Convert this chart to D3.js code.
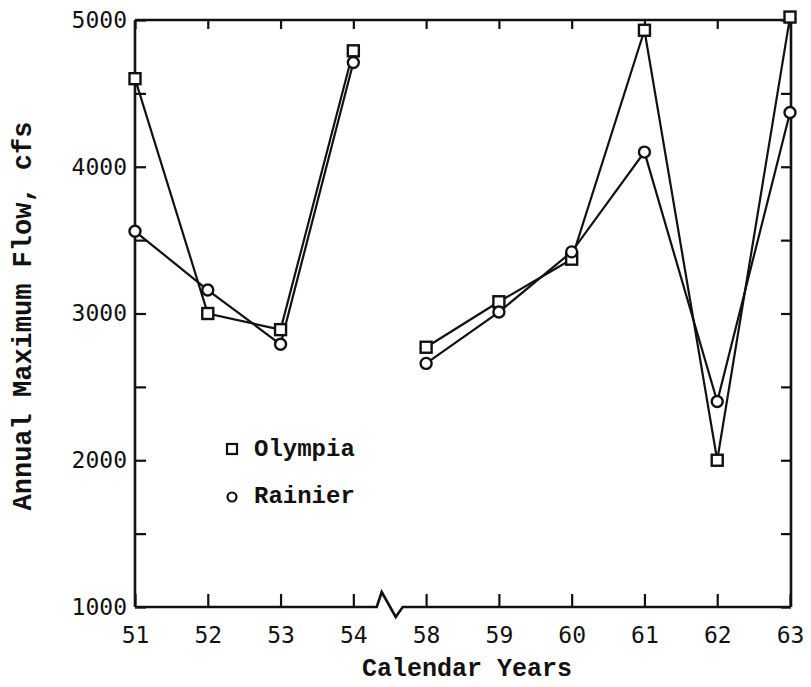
<!DOCTYPE html>
<html>
<head>
<meta charset="utf-8">
<script src="https://cdn.jsdelivr.net/npm/d3@7"></script>
<style>
  html, body { margin: 0; padding: 0; background: #fff; }
  svg { display: block; }
  text { fill: #111; }
</style>
</head>
<body>
<svg id="chart" width="811" height="687"></svg>
<script>
// ---- data ----
const years = ["51", "52", "53", "54", "58", "59", "60", "61", "62", "63"];
const olympia = [4600, 3000, 2890, 4790, 2770, 3080, 3370, 4930, 2000, 5020];
const rainier = [3560, 3160, 2790, 4710, 2660, 3010, 3420, 4100, 2400, 4370];
const yTickValues = [1000, 1500, 2000, 2500, 3000, 3500, 4000, 4500, 5000];
const yLabelValues = [1000, 2000, 3000, 4000, 5000];
const segments = [[0, 3], [4, 9]]; // series break between 54 and 58
const seriesNames = ["Olympia", "Rainier"];

// ---- layout ----
const mLeft = 135, mRight = 791, mTop = 20, mBottom = 607;
const svg = d3.select("#chart");

const x = d3.scalePoint().domain(years).range([mLeft, 790]);
const y = d3.scaleLinear().domain([1000, 5000]).range([mBottom, mTop]);

const tickFont = "'DejaVu Sans Mono', 'Liberation Mono', monospace";
const titleFont = "'Liberation Mono', 'Courier New', monospace";

// left axis
const gL = svg.append("g").attr("transform", `translate(${mLeft},0)`)
  .call(d3.axisLeft(y).tickValues(yTickValues).tickSize(-11).tickPadding(8)
    .tickFormat(d => yLabelValues.includes(d) ? d : ""));
// right axis
const gR = svg.append("g").attr("transform", `translate(${mRight},0)`)
  .call(d3.axisRight(y).tickValues(yTickValues).tickSize(-10).tickFormat(""));
// top axis
const gT = svg.append("g").attr("transform", `translate(0,${mTop})`)
  .call(d3.axisTop(x).tickSize(-9).tickFormat(""));
// bottom axis
const gB = svg.append("g").attr("transform", `translate(0,${mBottom})`)
  .call(d3.axisBottom(x).tickSize(-13).tickPadding(20));

[gL, gR, gT, gB].forEach(g => {
  g.selectAll(".tick line").attr("stroke", "#111").attr("stroke-width", 2.2);
  g.selectAll("text").attr("font-family", tickFont).attr("font-size", 23).attr("fill", "#111");
});
gL.select(".domain").attr("stroke", "#111").attr("stroke-width", 2.6).attr("d", `M0,${mTop}V${mBottom}`);
gR.select(".domain").attr("stroke", "#111").attr("stroke-width", 2.6).attr("d", `M0,${mTop}V${mBottom}`);
gT.select(".domain").attr("stroke", "#111").attr("stroke-width", 2.6).attr("d", `M${mLeft},0H${mRight}`);
gB.select(".domain").remove();
gB.selectAll("text").attr("dy", "0.71em");

// bottom axis line with break symbol
const mid = (x("54") + x("58")) / 2;
const brk = [[mLeft, 0], [mid - 13, 0], [mid - 8, -15], [mid + 6, 10], [mid + 13, 0], [mRight, 0]];
gB.append("path").attr("d", d3.line()(brk)).attr("fill", "none")
  .attr("stroke", "#111").attr("stroke-width", 2.6).attr("stroke-linejoin", "miter");

// series lines
const line = d3.line().x(d => x(d[0])).y(d => y(d[1]));
[olympia, rainier].forEach(vals => {
  segments.forEach(([a, b]) => {
    const pts = d3.range(a, b + 1).map(i => [years[i], vals[i]]);
    svg.append("path").attr("d", line(pts)).attr("fill", "none")
      .attr("stroke", "#111").attr("stroke-width", 2.2);
  });
});

// markers
const sq = 11;
svg.append("g").selectAll("rect").data(years).join("rect")
  .attr("x", (d, i) => x(d) - sq / 2).attr("y", (d, i) => y(olympia[i]) - sq / 2)
  .attr("width", sq).attr("height", sq).attr("fill", "#fff")
  .attr("stroke", "#111").attr("stroke-width", 2.4);
svg.append("g").selectAll("circle").data(years).join("circle")
  .attr("cx", d => x(d)).attr("cy", (d, i) => y(rainier[i])).attr("r", 5.5)
  .attr("fill", "#fff").attr("stroke", "#111").attr("stroke-width", 2.4);

// legend
const lg = svg.append("g");
lg.append("rect").attr("x", 227).attr("y", 444).attr("width", 10).attr("height", 10)
  .attr("fill", "#fff").attr("stroke", "#111").attr("stroke-width", 2.2);
lg.append("text").attr("x", 254).attr("y", 456).text(seriesNames[0])
  .attr("font-family", titleFont).attr("font-size", 24).attr("font-weight", "bold");
lg.append("circle").attr("cx", 232).attr("cy", 497).attr("r", 4.5)
  .attr("fill", "#fff").attr("stroke", "#111").attr("stroke-width", 2.2);
lg.append("text").attr("x", 254).attr("y", 503).text(seriesNames[1])
  .attr("font-family", titleFont).attr("font-size", 24).attr("font-weight", "bold");

// axis titles
svg.append("text").attr("x", 467).attr("y", 676).attr("text-anchor", "middle")
  .attr("font-family", titleFont).attr("font-size", 25).attr("font-weight", "bold")
  .text("Calendar Years");
svg.append("text").attr("transform", "translate(31,316) rotate(-90)").attr("text-anchor", "middle")
  .attr("font-family", titleFont).attr("font-size", 27).attr("font-weight", "bold")
  .text("Annual Maximum Flow, cfs");
</script>
</body>
</html>
